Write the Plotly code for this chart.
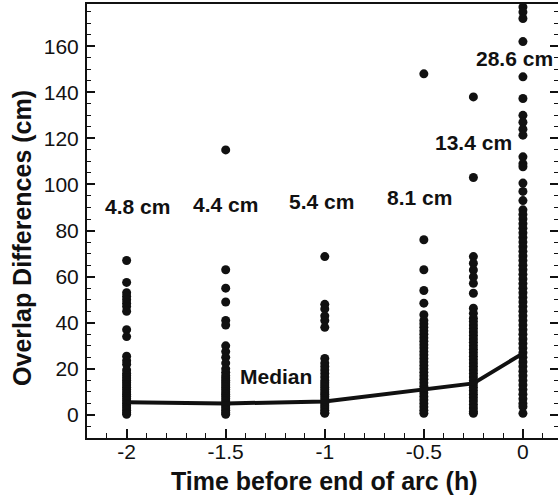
import plotly.graph_objects as go

# ---- data ----
times = [-2, -1.5, -1, -0.5, -0.25, 0]
diff_m2 = [67, 57.5, 53, 51.5, 50, 48.5, 47, 45, 37, 34, 25.5, 23.5, 22, 19.5, 18, 17, 16, 15,
           14, 13, 12, 11, 10, 9, 8, 7, 6, 5, 4, 3, 2, 1, 0.3]
diff_m15 = [115, 63, 55, 49, 41, 39, 30, 27.5, 25, 22.5, 20, 18.5, 17, 16, 15, 14, 13, 12, 11,
            10, 9, 8, 7, 6, 5, 4, 3, 2, 1, 0.3]
diff_m1 = [68.7, 48, 46, 43, 41, 38, 24.5, 22.5, 21, 19.5, 18, 16.5, 15, 14, 13, 12, 11, 10, 9,
           8, 7, 6, 5, 4, 3, 2, 1, 0.7]
diff_m05 = [148, 76, 63, 54, 48.5, 43.5, 41, 39.5, 38, 36.5, 35, 33.5, 32, 30.5, 29, 27.5, 26,
            24.5, 23, 21.5, 20, 18.5, 17, 15.5, 14, 12.5, 11, 9.5, 8, 6.5, 5, 3.5, 2, 0.7]
diff_m025 = [138, 103, 68.7, 65.8, 62.9, 59.9, 57.1, 52.8, 46.3, 44.1, 42, 40.5, 39, 37.5, 36,
             34.5, 33, 31.5, 30, 28.5, 27, 25.5, 24, 22.5, 21, 19.5, 18, 16.5, 15, 13.5, 12,
             10.5, 9, 7.5, 6, 4.5, 3, 1.5, 0.7]
diff_0 = [177, 174.8, 172, 162, 146.7, 137.3, 130, 127, 124, 121.4, 112, 109, 107.7, 100.6, 97,
          93, 89, 87, 85, 83, 81, 79, 77, 75, 73, 71, 69, 67, 65, 63, 61, 59, 57, 55, 53, 51,
          49, 47, 45, 43, 41, 39, 37, 35, 33, 31, 29, 27, 25, 23, 21, 19, 17, 15, 13, 11, 9,
          7, 5, 3.6, 0.7]
medians = [5.5, 5.0, 5.8, 10.8, 13.7, 26.7]
rms_labels = ["4.8 cm", "4.4 cm", "5.4 cm", "8.1 cm", "13.4 cm", "28.6 cm"]
label_x = [-1.944, -1.5, -1.017, -0.52, -0.25, -0.045]
label_y = [90.6, 91.4, 92.5, 94.5, 118, 154.8]
x_tickvals = [-2, -1.5, -1, -0.5, 0]
x_ticktext = ["-2", "-1.5", "-1", "-0.5", "0"]
y_tickvals = [0, 20, 40, 60, 80, 100, 120, 140, 160]
y_ticktext = ["0", "20", "40", "60", "80", "100", "120", "140", "160"]
x_title = "Time before end of arc (h)"
y_title = "Overlap Differences (cm)"

columns = [diff_m2, diff_m15, diff_m1, diff_m05, diff_m025, diff_0]

FONT = "Liberation Sans, Arial, Helvetica, sans-serif"
INK = "#111111"
fig = go.Figure()
for t, vals in zip(times, columns):
    fig.add_trace(go.Scatter(x=[t] * len(vals), y=vals, mode="markers",
                             marker=dict(color=INK, size=9),
                             showlegend=False, hoverinfo="skip"))
fig.add_trace(go.Scatter(x=times, y=medians, mode="lines",
                         line=dict(color=INK, width=4), showlegend=False))
fig.add_trace(go.Scatter(x=[None], y=[None], yaxis="y2", showlegend=False))

for x, y, t in zip(label_x, label_y, rms_labels):
    fig.add_annotation(x=x, y=y, text="<b>%s</b>" % t, showarrow=False,
                       font=dict(size=21, color=INK, family=FONT))
fig.add_annotation(x=-1.247, y=16.5, text="<b>Median</b>", showarrow=False,
                   font=dict(size=21, color=INK, family=FONT))

# axis titles as paper annotations (plot area: x 87..558 px, y 4..438 px)
fig.add_annotation(xref="paper", yref="paper", x=0.505, y=-0.099, text="<b>%s</b>" % x_title,
                   xanchor="center", yanchor="middle",
                   showarrow=False, font=dict(size=25, color=INK, family=FONT))
fig.add_annotation(xref="paper", yref="paper", x=-0.138, y=0.461, text="<b>%s</b>" % y_title,
                   xanchor="center", yanchor="middle",
                   showarrow=False, textangle=-90, font=dict(size=25, color=INK, family=FONT))

yr = [-10, 178.3]
fig.update_layout(
    width=558, height=496,
    margin=dict(l=87, r=0, t=4, b=58),
    paper_bgcolor="white", plot_bgcolor="white",
    font=dict(family=FONT, color=INK),
    xaxis=dict(range=[-2.2, 0.177], tickvals=x_tickvals, ticktext=x_ticktext,
               ticks="inside", ticklen=9, tickwidth=1.5, tickcolor=INK,
               minor=dict(dtick=0.1, tick0=0, ticks="inside", ticklen=5, tickwidth=1,
                          tickcolor=INK, showgrid=False),
               showline=True, linewidth=2, linecolor=INK, mirror=True,
               showgrid=False, zeroline=False, automargin=False, ticklabelstandoff=-6,
               tickfont=dict(size=21, family=FONT, color=INK)),
    yaxis=dict(range=yr, tickvals=y_tickvals, ticktext=y_ticktext,
               ticks="inside", ticklen=8, tickwidth=1.5, tickcolor=INK,
               minor=dict(dtick=5, tick0=0, ticks="inside", ticklen=4, tickwidth=1,
                          tickcolor=INK, showgrid=False),
               showline=True, linewidth=2, linecolor=INK, mirror=False,
               showgrid=False, zeroline=False, automargin=False, ticklabelstandoff=2,
               tickfont=dict(size=21, family=FONT, color=INK)),
    yaxis2=dict(range=yr, overlaying="y", side="right", tickvals=y_tickvals,
                showticklabels=False, ticks="inside", ticklen=8, tickwidth=1.5,
                tickcolor=INK, automargin=False,
                minor=dict(dtick=5, tick0=0, ticks="inside", ticklen=4, tickwidth=1,
                           tickcolor=INK, showgrid=False),
                showline=False, showgrid=False, zeroline=False),
)
fig.write_html("out.html", config={"displayModeBar": False},
               post_script="document.body.style.margin='0';document.body.style.overflow='hidden';")
